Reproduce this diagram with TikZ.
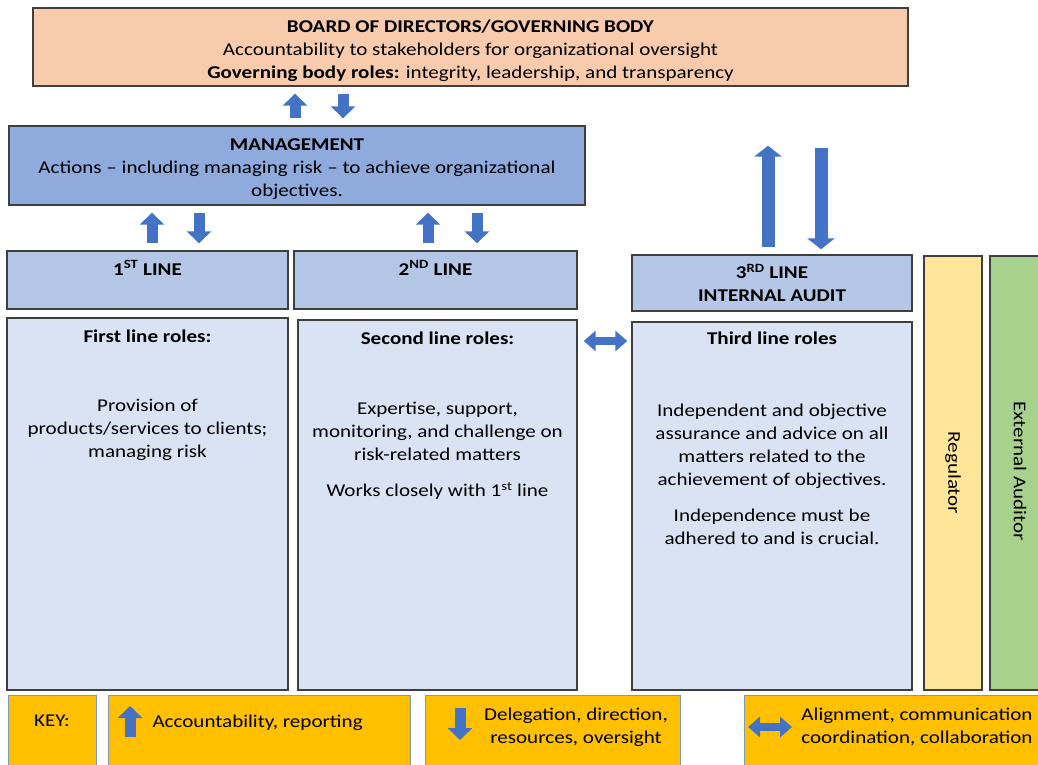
\documentclass[tikz,border=0pt]{standalone}
\usepackage{fontspec}
\setmainfont{Carlito}[FakeStretch=1.17]
\usetikzlibrary{arrows.meta}
\definecolor{boardfill}{HTML}{F8CBAD}
\definecolor{mgmtfill}{HTML}{8FAADC}
\definecolor{linefill}{HTML}{B4C7E7}
\definecolor{rolefill}{HTML}{DAE3F3}
\definecolor{regfill}{HTML}{FFE699}
\definecolor{extfill}{HTML}{A9D18E}
\definecolor{keyfill}{HTML}{FFC000}
\definecolor{keyedge}{HTML}{8497B0}
\definecolor{edgegray}{HTML}{3F3F3F}
\definecolor{arrowblue}{HTML}{4472C4}

\begin{document}
\begin{tikzpicture}[x=1pt,y=-1pt,
  every node/.style={font=\fontsize{18}{23}\selectfont},
  panel/.style={draw=edgegray,line width=1.4pt,inner sep=0pt,align=center},
  keybox/.style={draw=keyedge,line width=1pt,fill=keyfill,inner sep=0pt},
  head/.style={font=\fontsize{18}{23}\selectfont\bfseries,align=center},
  body/.style={align=center},
  flow/.style={line width=11pt,draw=arrowblue,-{Triangle[width=24pt,length=12pt]},shorten <=7pt,shorten >=7pt},
  twoway/.style={line width=8pt,draw=arrowblue,{Triangle[width=20pt,length=12pt]}-{Triangle[width=20pt,length=12pt]}}]
  \clip (0,0) rectangle (1038,765);

  % governance and management
  \node[panel,fill=boardfill,minimum width=875pt,minimum height=78pt] (board) at (470.5,47) {};
  \node[body,yshift=-3.5pt] (boardt) at (board)
    {\textbf{BOARD OF DIRECTORS/GOVERNING BODY}\\Accountability to stakeholders for organizational oversight\\\textbf{Governing body roles:} integrity, leadership, and transparency};
  \node[panel,fill=mgmtfill,minimum width=576pt,minimum height=79pt] (mgmt) at (297,165.5) {};
  \node[body,yshift=-3.5pt] (mgmtt) at (mgmt)
    {\textbf{MANAGEMENT}\\Actions -- including managing risk -- to achieve organizational\\objectives.};

  % the three lines
  \node[panel,fill=linefill,minimum width=281pt,minimum height=58pt] (l1) at (147.5,280) {};
  \node[panel,fill=linefill,minimum width=283pt,minimum height=58pt] (l2) at (435.5,280) {};
  \node[panel,fill=linefill,minimum width=280pt,minimum height=56pt,font=\fontsize{18}{23}\selectfont\bfseries] (l3) at (772,283)
    {3\textsuperscript{RD} LINE\\INTERNAL AUDIT};
  \node[head] (l1t) at (l1 |- 0,268) {1\textsuperscript{ST} LINE};
  \node[head] (l2t) at (l2 |- 0,268) {2\textsuperscript{ND} LINE};

  \node[panel,fill=rolefill,minimum width=281pt,minimum height=372pt] (r1) at (147.5,504) {};
  \node[panel,fill=rolefill,minimum width=279pt,minimum height=370pt] (r2) at (437.5,505) {};
  \node[panel,fill=rolefill,minimum width=280pt,minimum height=368pt] (r3) at (772,506) {};
  \node[head] (r1h) at (r1 |- 0,336) {First line roles:};
  \node[head] (r2h) at (r2 |- 0,338) {Second line roles:};
  \node[head] (r3h) at (r3 |- 0,338) {Third line roles};
  \node[body] (r1b) at (r1 |- 0,430) {Provision of\\products/services to clients;\\managing risk};
  \node[body] (r2b) at (r2 |- 0,451) {Expertise, support,\\monitoring, and challenge on\\risk-related matters\\[13pt]Works closely with 1\textsuperscript{st} line};
  \node[body] (r3b) at (r3 |- 0,474) {Independent and objective\\assurance and advice on all\\matters related to the\\achievement of objectives.\\[13pt]Independence must be\\adhered to and is crucial.};

  % outside parties
  \node[panel,fill=regfill,minimum width=58pt,minimum height=434pt] (reg) at (953,473) {};
  \node[panel,fill=extfill,minimum width=58pt,minimum height=434pt] (ext) at (1019,473) {};
  \node[rotate=-90] (regt) at (reg) {Regulator};
  \node[rotate=-90] (extt) at (1020,471) {External Auditor};

  % key
  \node[keybox,minimum width=88pt,minimum height=80pt] (key) at (52,735) {};
  \node[keybox,minimum width=302pt,minimum height=80pt] (acc) at (259,735) {};
  \node[keybox,minimum width=255pt,minimum height=80pt] (del) at (552.5,735) {};
  \node[keybox,minimum width=300pt,minimum height=80pt] (ali) at (894,735) {};
  \node (keyt) at (52,721) {KEY:};
  \node[anchor=west] (acct) at (149,723) {Accountability, reporting};
  \node[body] (delt) at (576,727) {Delegation, direction,\\resources, oversight};
  \node[body] (alit) at (917,727) {Alignment, communication\\coordination, collaboration};
  \coordinate (ka1) at (130,737);
  \coordinate (ka2) at (130,706);
  \coordinate (kd1) at (460,708);
  \coordinate (kd2) at (460,740);
  \coordinate (kw1) at (748,727);
  \coordinate (kw2) at (792,727);

  % arrows
  \draw[flow] (295,0 |- mgmt.north) -- (295,0 |- board.south);
  \draw[flow] (343,0 |- board.south) -- (343,0 |- mgmt.north);
  \draw[flow] (152,0 |- l1.north) -- (152,0 |- mgmt.south);
  \draw[flow] (199,0 |- mgmt.south) -- (199,0 |- l1.north);
  \draw[flow] (428,0 |- l2.north) -- (428,0 |- mgmt.south);
  \draw[flow] (477,0 |- mgmt.south) -- (477,0 |- l2.north);
  \draw[flow,line width=13pt,-{Triangle[width=27pt,length=11pt]},shorten >=59pt] (768,0 |- l3.north) -- (768,0 |- board.south);
  \draw[flow,line width=13pt,-{Triangle[width=27pt,length=11pt]},shorten <=61pt,shorten >=5pt] (821,0 |- board.south) -- (821,0 |- l3.north);
  \draw[twoway,shorten <=6pt,shorten >=4pt] (r2.east |- 0,341) -- (r3.west |- 0,341);
  \draw[flow,shorten <=0pt,shorten >=0pt] (ka1) -- (ka2);
  \draw[flow,shorten <=0pt,shorten >=0pt] (kd1) -- (kd2);
  \draw[twoway] (kw1) -- (kw2);
\end{tikzpicture}
\end{document}
